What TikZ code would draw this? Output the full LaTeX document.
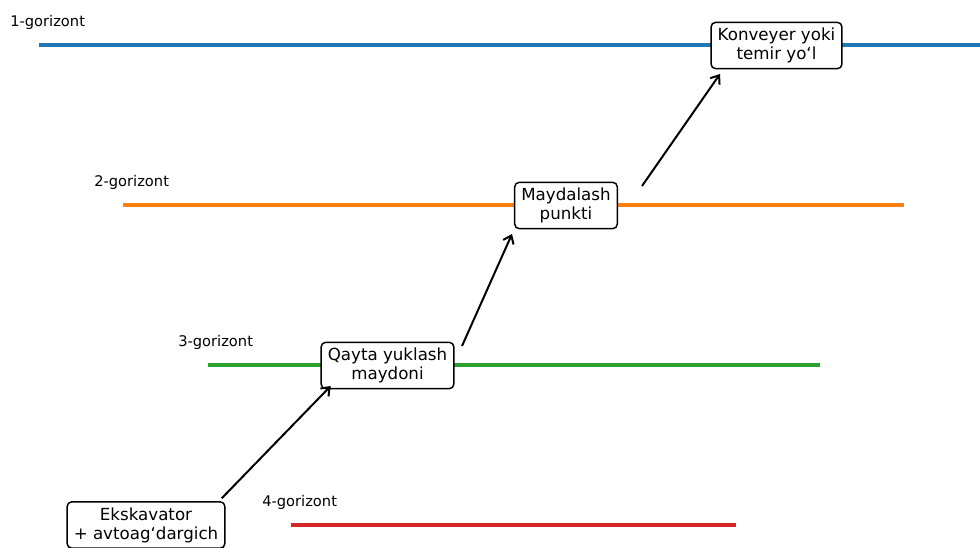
\documentclass[tikz,border=0pt]{standalone}
\usepackage{fontspec}
\setmainfont{DejaVu Sans}
\usetikzlibrary{arrows.meta}
\definecolor{hblue}{HTML}{1F77B4}
\definecolor{horange}{HTML}{FF7F0E}
\definecolor{hgreen}{HTML}{2CA02C}
\definecolor{hred}{HTML}{D62728}

\begin{document}
\begin{tikzpicture}[x=0.75pt, y=-0.75pt,
		level/.style={line width=2.3pt},
		lab/.style={anchor=base west, inner sep=0pt, font=\fontsize{11}{13}\selectfont},
		box/.style={draw, rounded corners=3.5pt, line width=1.1pt, fill=white, align=center, inner xsep=5pt, inner ysep=4.2pt, font=\fontsize{12.5}{14.3}\selectfont},
		flow/.style={-{Straight Barb[length=5.5pt,width=8.5pt]}, line width=1.5pt}]
		\useasboundingbox (0,0) rectangle (980,547);

		% horizon lines
		\draw[level, hblue] (39,45) coordinate (h1a) -- (980,45) coordinate (h1b);
		\draw[level, horange] (123,205) coordinate (h2a) -- (904,205) coordinate (h2b);
		\draw[level, hgreen] (208,365) coordinate (h3a) -- (820,365) coordinate (h3b);
		\draw[level, hred] (291,525) coordinate (h4a) -- (736,525) coordinate (h4b);

		\node[lab] (l1) at (10,26) {1-gorizont};
		\node[lab] (l2) at (94,186) {2-gorizont};
		\node[lab] (l3) at (178,346) {3-gorizont};
		\node[lab] (l4) at (262,506) {4-gorizont};

		\node[box] (kon) at (776.5,45.5) {Konveyer yoki\\temir yo‘l};
		\node[box] (may) at (566,205.5) {Maydalash\\punkti};
		\node[box] (qay) at (387.5,365.5) {Qayta yuklash\\maydoni};
		\node[box] (eks) at (146,525) {Ekskavator\\+ avtoag‘dargich};

		\draw[flow] ([shift={(75.7,-26.7)}]eks.center) -- ([shift={(-56.8,20.5)}]qay.center);
		\draw[flow] ([shift={(74.5,-19.5)}]qay.center) -- ([shift={(-54,28.5)}]may.center);
		\draw[flow] ([shift={(76,-19.5)}]may.center) -- ([shift={(-56.5,28.5)}]kon.center);

	\end{tikzpicture}
\end{document}
